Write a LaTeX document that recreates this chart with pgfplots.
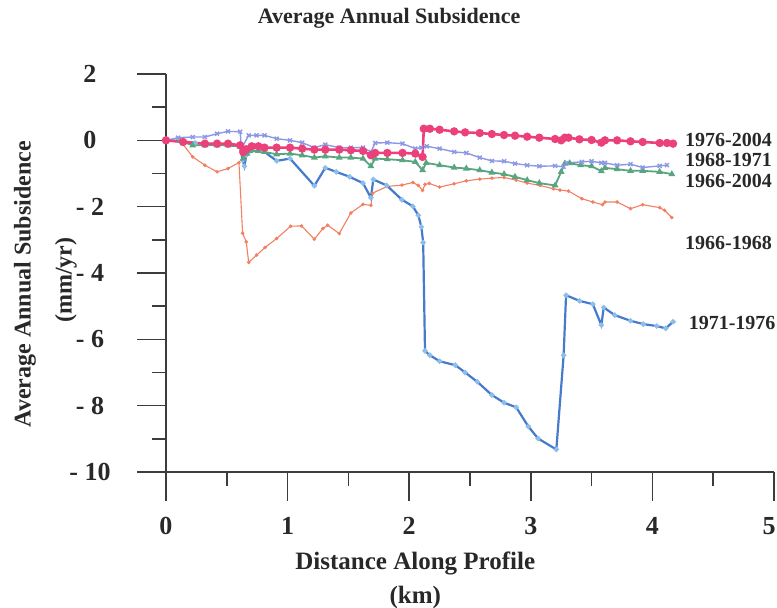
\documentclass[border=0pt]{standalone}
\usepackage{fontspec}
\setmainfont{Liberation Serif}
\usepackage{pgfplots}
\pgfplotsset{compat=1.18}

\definecolor{axisgray}{RGB}{60,60,60}
\definecolor{txtgray}{RGB}{40,40,40}
\definecolor{cPink}{RGB}{236,64,122}
\definecolor{cLav}{RGB}{140,152,228}
\definecolor{cGreen}{RGB}{88,165,128}
\definecolor{cOrange}{RGB}{242,128,98}
\definecolor{cBlue}{RGB}{70,122,204}
\definecolor{cBlueM}{RGB}{140,190,235}

\begin{document}
\begin{tikzpicture}
\begin{axis}[
  scale only axis, width=608bp, height=398bp,
  xmin=0, xmax=5, ymin=-10, ymax=2,
  axis x line=bottom, axis y line=left,
  every outer x axis line/.append style={-},
  every outer y axis line/.append style={-},
  every inner x axis line/.append style={-},
  every inner y axis line/.append style={-},
  axis line style={draw=axisgray, line width=1.8bp, -},
  xtick={0,1,2,3,4,5}, ytick={-10,-8,-6,-4,-2,0,2},
  xticklabels={0,1,2,3,4,\makebox[0pt][c]{\hspace*{-10bp}5}},
  yticklabels={- 10,- 8,- 6,- 4,- 2,0,2},
  minor x tick num=1, minor y tick num=1,
  tick align=outside,
  major tick length=29bp, minor tick length=14bp,
  every tick/.style={draw=axisgray, line width=1.6bp},
  tick label style={font=\fontsize{26bp}{28bp}\selectfont\bfseries, text=txtgray},
  yticklabel style={anchor=center, xshift=-47bp},
  xticklabel style={anchor=center, yshift=-25bp},
  clip=false,
]
% 1966-1968
\addplot[color=cOrange, line width=1.1bp, mark=*, mark size=1.2bp] coordinates {
(0,0) (0.115,0) (0.22,-0.5) (0.32,-0.75) (0.42,-0.95) (0.51,-0.85) (0.60,-0.67)
(0.63,-2.8) (0.66,-3.06) (0.68,-3.68) (0.745,-3.46) (0.815,-3.23) (0.91,-2.96)
(1.025,-2.59) (1.115,-2.58) (1.22,-2.98) (1.29,-2.66) (1.33,-2.56) (1.425,-2.81)
(1.52,-2.19) (1.62,-1.93) (1.685,-1.96) (1.70,-1.59) (1.82,-1.39) (1.94,-1.35)
(2.03,-1.27) (2.075,-1.36) (2.11,-1.51) (2.13,-1.33) (2.165,-1.30) (2.25,-1.41)
(2.37,-1.31) (2.47,-1.22) (2.58,-1.17) (2.68,-1.14) (2.78,-1.12) (2.88,-1.20)
(2.97,-1.29) (3.075,-1.36) (3.185,-1.46) (3.24,-1.50) (3.31,-1.53) (3.42,-1.76)
(3.51,-1.86) (3.59,-1.94) (3.61,-1.86) (3.71,-1.86) (3.82,-2.06) (3.92,-1.94)
(4.06,-2.03) (4.10,-2.11) (4.16,-2.33)
};
% 1971-1976
\addplot[color=cBlue, line width=2.2bp, mark=*, mark size=1.4bp,
  mark options={draw=cBlueM, fill=cBlueM}] coordinates {
(0,0) (0.14,-0.03) (0.24,-0.08) (0.42,-0.12) (0.61,-0.18) (0.63,-0.6) (0.645,-0.78)
(0.66,-0.45) (0.69,-0.32) (0.80,-0.32) (0.91,-0.62) (1.02,-0.55) (1.22,-1.37)
(1.31,-0.83) (1.40,-0.95) (1.51,-1.10) (1.62,-1.29) (1.685,-1.73) (1.705,-1.18)
(1.815,-1.36) (1.94,-1.79) (2.03,-1.99) (2.075,-2.26) (2.10,-2.61) (2.115,-3.08)
(2.13,-6.35) (2.17,-6.48) (2.25,-6.66) (2.38,-6.78) (2.46,-7.00) (2.56,-7.28)
(2.68,-7.68) (2.78,-7.91) (2.88,-8.05) (2.98,-8.63) (3.06,-8.99) (3.21,-9.32)
(3.27,-6.48) (3.29,-4.67) (3.40,-4.84) (3.51,-4.94) (3.58,-5.57) (3.60,-5.04)
(3.69,-5.27) (3.82,-5.44) (3.925,-5.54) (4.035,-5.60) (4.11,-5.67) (4.17,-5.47)
};
% 1966-2004
\addplot[color=cGreen, line width=1.8bp, mark=triangle*, mark size=2.2bp] coordinates {
(0,0) (0.115,-0.02) (0.22,-0.15) (0.32,-0.15) (0.42,-0.15) (0.51,-0.15) (0.61,-0.18)
(0.635,-0.55) (0.665,-0.40) (0.69,-0.32) (0.76,-0.32) (0.81,-0.35) (0.91,-0.42)
(1.02,-0.40) (1.12,-0.45) (1.22,-0.52) (1.31,-0.48) (1.425,-0.52) (1.52,-0.52)
(1.62,-0.55) (1.685,-0.78) (1.72,-0.55) (1.82,-0.57) (1.945,-0.60) (2.05,-0.65)
(2.11,-0.90) (2.14,-0.68) (2.25,-0.75) (2.37,-0.82) (2.47,-0.85) (2.58,-0.90)
(2.68,-0.97) (2.78,-1.02) (2.87,-1.10) (2.97,-1.20) (3.07,-1.29) (3.20,-1.36)
(3.25,-0.95) (3.28,-0.70) (3.32,-0.69) (3.41,-0.75) (3.50,-0.78) (3.58,-0.93)
(3.61,-0.83) (3.71,-0.87) (3.82,-0.92) (3.92,-0.92) (4.06,-0.95) (4.16,-1.02)
};
% 1968-1971
\addplot[color=cLav, line width=1.4bp, mark=x, mark size=2.8bp,
  mark options={line width=1.4bp}] coordinates {
(0,0) (0.10,0.08) (0.22,0.10) (0.32,0.10) (0.42,0.20) (0.51,0.27) (0.61,0.26)
(0.62,-0.25) (0.68,0.15) (0.745,0.15) (0.81,0.15) (0.91,0.05) (1.02,0.0)
(1.12,-0.07) (1.22,-0.22) (1.31,-0.13) (1.425,-0.22) (1.52,-0.22) (1.62,-0.22)
(1.685,-0.35) (1.72,-0.08) (1.82,-0.07) (1.945,-0.10) (2.05,-0.25) (2.10,-0.22)
(2.145,-0.18) (2.25,-0.25) (2.37,-0.35) (2.47,-0.38) (2.58,-0.52) (2.68,-0.62)
(2.78,-0.63) (2.87,-0.70) (2.97,-0.75) (3.07,-0.78) (3.20,-0.77) (3.27,-0.80)
(3.295,-0.68) (3.42,-0.65) (3.50,-0.63) (3.58,-0.68) (3.61,-0.68) (3.71,-0.75)
(3.82,-0.72) (3.92,-0.82) (4.06,-0.77) (4.12,-0.75)
};
% 1976-2004
\addplot[color=cPink, line width=2.6bp, mark=*, mark size=2.8bp] coordinates {
(0,0) (0.14,-0.05) (0.32,-0.10) (0.42,-0.10) (0.51,-0.10) (0.61,-0.15) (0.635,-0.35)
(0.66,-0.27) (0.705,-0.18) (0.76,-0.18) (0.81,-0.22) (0.91,-0.22) (1.02,-0.22)
(1.12,-0.25) (1.22,-0.28) (1.31,-0.28) (1.425,-0.28) (1.52,-0.30) (1.62,-0.32)
(1.685,-0.45) (1.72,-0.38) (1.82,-0.38) (1.945,-0.38) (2.05,-0.40) (2.11,-0.50)
(2.12,0.35) (2.17,0.35) (2.25,0.32) (2.37,0.27) (2.46,0.24) (2.58,0.22) (2.68,0.19)
(2.78,0.16) (2.87,0.14) (2.97,0.11) (3.07,0.08) (3.20,0.04) (3.25,0.0) (3.28,0.08)
(3.31,0.08) (3.40,0.03) (3.50,0.01) (3.58,-0.07) (3.61,0.0) (3.71,0.0) (3.82,-0.03)
(3.92,-0.05) (4.06,-0.08) (4.12,-0.08) (4.17,-0.10)
};

% series names at the right-hand end of each profile
\begin{scope}[every node/.style={anchor=west, text=txtgray,
    font=\fontsize{20bp}{20bp}\selectfont\bfseries}]
\node at (axis cs:4.24,0.0) {1976-2004};
\node at (axis cs:4.24,-0.6) {1968-1971};
\node at (axis cs:4.24,-1.23) {1966-2004};
\node at (axis cs:4.24,-3.1) {1966-1968};
\node at (axis cs:4.27,-5.51) {1971-1976};
\end{scope}

% title and axis titles
\node[text=txtgray, font=\fontsize{22bp}{24bp}\selectfont\bfseries]
  at ([yshift=56bp]axis description cs:0.367,1) {Average Annual Subsidence};
\node[text=txtgray, font=\fontsize{25bp}{28bp}\selectfont\bfseries]
  at ([yshift=-91bp]axis description cs:0.41,0) {Distance Along Profile};
\node[text=txtgray, font=\fontsize{25bp}{28bp}\selectfont\bfseries]
  at ([yshift=-125bp]axis description cs:0.41,0) {(km)};
\node[rotate=90, text=txtgray, font=\fontsize{24bp}{28bp}\selectfont\bfseries]
  at ([xshift=-141bp]axis description cs:0,0.472) {Average Annual Subsidence};
\node[rotate=90, text=txtgray, font=\fontsize{24bp}{28bp}\selectfont\bfseries]
  at ([xshift=-100bp]axis description cs:0,0.482) {(mm/yr)};
\end{axis}
\pgfresetboundingbox
\path[use as bounding box] (-166bp,-136bp) rectangle (611bp,472bp);
\end{tikzpicture}
\end{document}
